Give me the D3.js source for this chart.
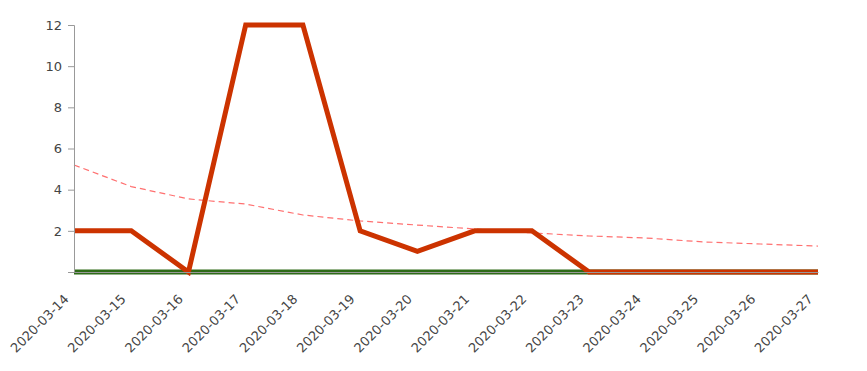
<!DOCTYPE html>
<html>
<head>
<meta charset="utf-8">
<script src="https://cdn.jsdelivr.net/npm/d3@7"></script>
<style>
  body { margin: 0; background: #fff; }
  svg { display: block; }
  .axis text { font-family: "DejaVu Sans", sans-serif; fill: #444; }
  .axis path, .axis line { stroke: #999; }
</style>
</head>
<body>
<svg id="chart" width="867" height="371"></svg>
<script>
const dates = ["2020-03-14","2020-03-15","2020-03-16","2020-03-17","2020-03-18","2020-03-19","2020-03-20","2020-03-21","2020-03-22","2020-03-23","2020-03-24","2020-03-25","2020-03-26","2020-03-27"];
const dailyValues = [2, 2, 0, 12, 12, 2, 1, 2, 2, 0, 0, 0, 0, 0];
const zeroValues = [0, 0, 0, 0, 0, 0, 0, 0, 0, 0, 0, 0, 0, 0];
const trendValues = [5.2, 4.15, 3.55, 3.3, 2.77, 2.48, 2.28, 2.09, 1.9, 1.75, 1.65, 1.46, 1.36, 1.26];
const yTicks = [0, 2, 4, 6, 8, 10, 12];
const yTickLabels = ["", "2", "4", "6", "8", "10", "12"];

const svg = d3.select("#chart");
const margin = {left: 74, right: 49, top: 25, bottom: 99};
const W = 867, H = 371;

const x = d3.scalePoint().domain(dates).range([margin.left, W - margin.right]);
const y = d3.scaleLinear().domain([0, 12]).range([H - margin.bottom, margin.top]);

const line = (vals) => d3.line().x((d, i) => x(dates[i])).y(d => y(d))(vals);

// zero series (green)
svg.append("path").attr("d", line(zeroValues))
  .attr("fill", "none").attr("stroke", "#2e6b17").attr("stroke-width", 5);

// trend (dashed)
svg.append("path").attr("d", line(trendValues))
  .attr("fill", "none").attr("stroke", "#ff7070").attr("stroke-width", 1.2)
  .attr("stroke-dasharray", "6,4");

// daily series
svg.append("path").attr("d", line(dailyValues))
  .attr("fill", "none").attr("stroke", "#cc3300").attr("stroke-width", 5)
  .attr("stroke-linejoin", "miter");

// y axis
const yAxis = svg.append("g").attr("class", "axis")
  .attr("transform", `translate(${margin.left},0)`)
  .call(d3.axisLeft(y).tickValues(yTicks).tickFormat((d, i) => yTickLabels[i]).tickSize(6).tickPadding(6).tickSizeOuter(6));
yAxis.selectAll("text").style("font-size", "13px");

// x axis
const xAxis = svg.append("g").attr("class", "axis")
  .attr("transform", `translate(0,${H - margin.bottom})`)
  .call(d3.axisBottom(x).tickSize(0).tickSizeOuter(0));
xAxis.selectAll("text")
  .style("font-size", "13px")
  .attr("text-anchor", "end")
  .attr("x", 0).attr("y", 0).attr("dx", 0).attr("dy", 0)
  .attr("transform", "translate(-5,28) rotate(-45)");
</script>
</body>
</html>
